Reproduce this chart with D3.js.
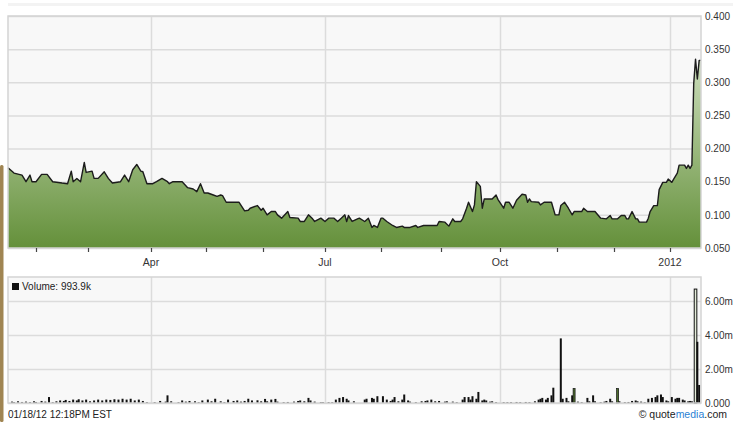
<!DOCTYPE html>
<html>
<head>
<meta charset="utf-8">
<script src="https://cdn.jsdelivr.net/npm/d3@7"></script>
<style>
  body { margin: 0; background: #fff; }
  svg { display: block; font-family: "Liberation Sans", Arial, sans-serif; }
</style>
</head>
<body>
<div class="chart"></div>
<script>
// price, daily close
const priceDates = [
  '2011-01-18','2011-01-21','2011-01-25','2011-01-27','2011-01-29','2011-01-30','2011-02-01','2011-02-04','2011-02-07','2011-02-10',
  '2011-02-15','2011-02-18','2011-02-20','2011-02-21','2011-02-23','2011-02-25','2011-02-27','2011-02-28','2011-03-03','2011-03-04',
  '2011-03-06','2011-03-09','2011-03-11','2011-03-13','2011-03-17','2011-03-19','2011-03-21','2011-03-23','2011-03-25','2011-03-27',
  '2011-03-28','2011-03-30','2011-04-02','2011-04-04','2011-04-07','2011-04-10','2011-04-11','2011-04-13','2011-04-18','2011-04-21',
  '2011-04-24','2011-04-26','2011-04-28','2011-04-30','2011-05-02','2011-05-05','2011-05-07','2011-05-09','2011-05-10','2011-05-12',
  '2011-05-19','2011-05-22','2011-05-24','2011-05-25','2011-05-29','2011-05-31','2011-06-01','2011-06-03','2011-06-05','2011-06-07',
  '2011-06-08','2011-06-10','2011-06-13','2011-06-14','2011-06-18','2011-06-19','2011-06-21','2011-06-23','2011-06-25','2011-06-26',
  '2011-06-29','2011-07-01','2011-07-03','2011-07-06','2011-07-08','2011-07-10','2011-07-12','2011-07-13','2011-07-14','2011-07-16',
  '2011-07-19','2011-07-20','2011-07-23','2011-07-25','2011-07-27','2011-07-28','2011-07-30','2011-08-01','2011-08-02','2011-08-04',
  '2011-08-07','2011-08-09','2011-08-12','2011-08-13','2011-08-16','2011-08-19','2011-08-20','2011-08-23','2011-08-30','2011-08-31',
  '2011-09-03','2011-09-05','2011-09-07','2011-09-08','2011-09-11','2011-09-12','2011-09-14','2011-09-15','2011-09-17','2011-09-18',
  '2011-09-19','2011-09-21','2011-09-22','2011-09-23','2011-09-27','2011-09-29','2011-09-30','2011-10-03','2011-10-04','2011-10-06',
  '2011-10-08','2011-10-10','2011-10-13','2011-10-15','2011-10-16','2011-10-17','2011-10-18','2011-10-22','2011-10-23','2011-10-25',
  '2011-10-29','2011-10-31','2011-11-02','2011-11-03','2011-11-05','2011-11-07','2011-11-09','2011-11-10','2011-11-14','2011-11-15',
  '2011-11-17','2011-11-21','2011-11-24','2011-11-27','2011-11-29','2011-11-30','2011-12-03','2011-12-05','2011-12-07','2011-12-08',
  '2011-12-09','2011-12-11','2011-12-13','2011-12-14','2011-12-15','2011-12-19','2011-12-20','2011-12-21','2011-12-23','2011-12-25',
  '2011-12-26','2011-12-28','2011-12-30','2011-12-31','2012-01-02','2012-01-03','2012-01-05','2012-01-06','2012-01-09','2012-01-10',
  '2012-01-11','2012-01-12','2012-01-13','2012-01-14','2012-01-15','2012-01-16','2012-01-17','2012-01-18'
];
const priceValues = [
  0.171,0.163,0.160,0.150,0.160,0.150,0.150,0.161,0.161,0.150,
  0.148,0.147,0.166,0.150,0.155,0.150,0.179,0.164,0.166,0.155,
  0.155,0.165,0.155,0.148,0.150,0.160,0.150,0.168,0.176,0.166,
  0.165,0.147,0.147,0.150,0.155,0.150,0.147,0.150,0.150,0.141,
  0.139,0.135,0.147,0.133,0.133,0.130,0.128,0.130,0.129,0.119,
  0.119,0.106,0.107,0.110,0.114,0.107,0.110,0.100,0.105,0.105,
  0.100,0.095,0.105,0.096,0.095,0.090,0.090,0.100,0.094,0.090,
  0.095,0.090,0.095,0.095,0.090,0.095,0.100,0.090,0.099,0.090,
  0.094,0.095,0.090,0.095,0.081,0.084,0.081,0.095,0.095,0.090,
  0.084,0.081,0.083,0.081,0.081,0.084,0.081,0.084,0.084,0.090,
  0.089,0.083,0.094,0.090,0.090,0.094,0.110,0.119,0.105,0.115,
  0.150,0.143,0.110,0.124,0.124,0.130,0.123,0.110,0.119,0.119,
  0.110,0.122,0.131,0.130,0.119,0.124,0.120,0.119,0.115,0.119,
  0.119,0.100,0.100,0.114,0.119,0.110,0.100,0.105,0.105,0.110,
  0.105,0.105,0.095,0.094,0.099,0.094,0.094,0.099,0.099,0.094,
  0.094,0.105,0.094,0.094,0.089,0.089,0.095,0.105,0.114,0.114,
  0.138,0.149,0.149,0.154,0.149,0.154,0.163,0.175,0.175,0.170,
  0.175,0.170,0.175,0.298,0.335,0.305,0.333,0.333
];

// volume, millions of shares
const volDates = [
  '2011-01-20','2011-01-21','2011-01-23','2011-01-25','2011-01-27','2011-01-29','2011-01-31','2011-02-01','2011-02-04','2011-02-06',
  '2011-02-08','2011-02-10','2011-02-12','2011-02-14','2011-02-16','2011-02-17','2011-02-19','2011-02-21','2011-02-23','2011-02-24',
  '2011-02-26','2011-02-28','2011-03-02','2011-03-04','2011-03-06','2011-03-08','2011-03-10','2011-03-12','2011-03-14','2011-03-16',
  '2011-03-18','2011-03-20','2011-03-22','2011-03-24','2011-03-26','2011-03-28','2011-03-30','2011-04-03','2011-04-06','2011-04-09',
  '2011-04-10','2011-04-12','2011-04-16','2011-04-18','2011-04-20','2011-04-22','2011-04-25','2011-04-27','2011-04-29','2011-05-02',
  '2011-05-04','2011-05-06','2011-05-09','2011-05-11','2011-05-13','2011-05-16','2011-05-18','2011-05-20','2011-05-22','2011-05-24',
  '2011-05-26','2011-05-29','2011-05-31','2011-06-02','2011-06-03','2011-06-05','2011-06-07','2011-06-08','2011-06-11','2011-06-13',
  '2011-06-16','2011-06-18','2011-06-19','2011-06-21','2011-06-23','2011-06-24','2011-06-26','2011-06-29','2011-06-30','2011-07-03',
  '2011-07-05','2011-07-07','2011-07-09','2011-07-11','2011-07-13','2011-07-14','2011-07-17','2011-07-23','2011-07-24','2011-07-27',
  '2011-07-28','2011-07-30','2011-08-02','2011-08-04','2011-08-06','2011-08-07','2011-08-08','2011-08-10','2011-08-12','2011-08-13',
  '2011-08-15','2011-08-16','2011-08-19','2011-08-22','2011-08-24','2011-08-25','2011-08-27','2011-08-29','2011-08-31','2011-09-03',
  '2011-09-04','2011-09-07','2011-09-09','2011-09-12','2011-09-13','2011-09-15','2011-09-16','2011-09-17','2011-09-19','2011-09-20',
  '2011-09-22','2011-09-23','2011-09-24','2011-09-26','2011-09-27','2011-09-29','2011-10-03','2011-10-05','2011-10-07','2011-10-10',
  '2011-10-12','2011-10-15','2011-10-17','2011-10-20','2011-10-22','2011-10-23','2011-10-24','2011-10-26','2011-10-27','2011-10-29',
  '2011-10-30','2011-11-03','2011-11-04','2011-11-06','2011-11-07','2011-11-09','2011-11-10','2011-11-12','2011-11-14','2011-11-17',
  '2011-11-18','2011-11-20','2011-11-21','2011-11-24','2011-11-26','2011-11-27','2011-11-29','2011-11-30','2011-12-03','2011-12-04',
  '2011-12-07','2011-12-09','2011-12-11','2011-12-13','2011-12-14','2011-12-16','2011-12-18','2011-12-20','2011-12-22','2011-12-24',
  '2011-12-25','2011-12-27','2011-12-28','2011-12-30','2011-12-31','2012-01-02','2012-01-04','2012-01-05','2012-01-06','2012-01-08',
  '2012-01-09','2012-01-11','2012-01-12','2012-01-13','2012-01-15','2012-01-16','2012-01-17'
];
const volValues = [
  0.08,0.05,0.10,0.06,0.08,0.05,0.10,0.06,0.12,0.08,
  0.35,0.05,0.10,0.15,0.12,0.18,0.12,0.20,0.15,0.22,
  0.15,0.20,0.10,0.15,0.20,0.15,0.20,0.18,0.22,0.20,
  0.25,0.20,0.25,0.15,0.20,0.12,0.05,0.05,0.12,0.08,
  0.45,0.10,0.05,0.15,0.08,0.12,0.10,0.05,0.15,0.20,
  0.10,0.25,0.10,0.05,0.20,0.12,0.15,0.08,0.12,0.25,
  0.15,0.16,0.10,0.24,0.10,0.20,0.24,0.08,0.05,0.06,
  0.08,0.12,0.15,0.10,0.30,0.15,0.08,0.05,0.05,0.05,
  0.05,0.20,0.30,0.35,0.25,0.15,0.10,0.20,0.25,0.30,
  0.25,0.40,0.40,0.20,0.12,0.20,0.35,0.10,0.20,0.50,
  0.15,0.08,0.05,0.10,0.12,0.15,0.20,0.10,0.12,0.08,
  0.10,0.08,0.05,0.20,0.35,0.35,0.20,0.40,0.25,0.65,
  0.15,0.20,0.15,0.08,0.10,0.05,0.05,0.05,0.05,0.06,
  0.05,0.06,0.05,0.10,0.20,0.25,0.30,0.20,0.30,0.45,
  0.90,3.80,0.25,0.30,0.10,0.45,0.85,0.08,0.05,0.30,
  0.10,0.45,0.10,0.05,0.08,0.12,0.25,0.10,0.85,0.10,
  0.05,0.06,0.12,0.15,0.10,0.08,0.05,0.25,0.30,0.35,
  0.45,0.50,0.35,0.15,0.10,0.35,0.25,0.30,0.30,0.20,
  0.15,0.10,0.12,0.10,6.70,3.60,1.06
];
const upVolDates = ['2011-11-10', '2011-12-03'];

const priceTicks = [0.05, 0.10, 0.15, 0.20, 0.25, 0.30, 0.35, 0.40];
const volTicks = [0, 2, 4, 6];
const quarterDates = ['2011-04-01', '2011-07-01', '2011-10-01', '2012-01-01'];
const quarterLabels = ['Apr', 'Jul', 'Oct', '2012'];
const legendText = 'Volume: 993.9k';
const stampText = '01/18/12 12:18PM EST';

const w = 733;
const h = 422;
const left = 8;
const right = 701;
const pTop = 16;
const pBottom = 248;
const vTop = 277;
const vBottom = 403;

const parse = d3.timeParse('%Y-%m-%d');
const price = priceDates.map((d, i) => ({ date: parse(d), v: priceValues[i] }));
const vol = volDates.map((d, i) => ({ date: parse(d), v: volValues[i], key: d }));
const qDates = quarterDates.map(parse);
const monthTicks = d3.timeMonth.range(parse('2011-02-01'), parse('2012-01-02'));

const svg = d3.select('.chart').append('svg').attr('width', w).attr('height', h);
svg.append('rect').attr('width', w).attr('height', h).attr('fill', '#fff');

// x: the source spaces months unevenly (trading days), so pin each month start
const xScale = d3
  .scaleTime()
  .domain([parse('2011-01-18'), ...monthTicks, parse('2012-01-18')])
  .range([left, 36, 88, 151, 206, 263, 325, 381, 441, 500, 557, 614, 670, right]);

const yPrice = d3.scaleLinear().domain([0.05, 0.4]).range([pBottom, pTop]);
const yVol = d3.scaleLinear().domain([0, 7.41]).range([vBottom, vTop]);

// decorations
svg.append('rect').attr('x', left).attr('y', 3).attr('width', w - left).attr('height', 3).attr('fill', '#f3f3f3');
svg.append('rect').attr('x', 0).attr('y', 165).attr('width', 3.5).attr('height', h - 165).attr('rx', 1.5).attr('fill', '#a08552');

const defs = svg.append('defs');
const grad = defs
  .append('linearGradient')
  .attr('id', 'pg')
  .attr('gradientUnits', 'userSpaceOnUse')
  .attr('x1', 0).attr('y1', pTop).attr('x2', 0).attr('y2', pBottom);
grad.append('stop').attr('offset', 0).attr('stop-color', '#e3efd9');
grad.append('stop').attr('offset', 1).attr('stop-color', '#64903a');

function panel(top, bottom, yScale, ticks) {
  const g = svg.append('g');
  g.append('rect')
    .attr('x', left).attr('y', top)
    .attr('width', right - left).attr('height', bottom - top)
    .attr('fill', '#f8f8f8');
  // horizontal grid
  g.append('g')
    .attr('transform', `translate(${left},0)`)
    .call(d3.axisLeft(yScale).tickValues(ticks).tickSize(-(right - left)).tickFormat(''))
    .call((a) => a.select('.domain').remove())
    .selectAll('line').attr('stroke', '#dcdcdc').attr('stroke-width', 1.5);
  // vertical grid
  g.append('g')
    .attr('transform', `translate(0,${bottom})`)
    .call(d3.axisBottom(xScale).tickValues(qDates).tickSize(-(bottom - top)).tickFormat(''))
    .call((a) => a.select('.domain').remove())
    .selectAll('line').attr('stroke', '#dcdcdc').attr('stroke-width', 1.5);
  return g;
}

// price panel
const pg = panel(pTop, pBottom, yPrice, priceTicks);
pg.append('path')
  .datum(price)
  .attr('fill', 'url(#pg)')
  .attr('d', d3.area().x((d) => xScale(d.date)).y0(pBottom).y1((d) => yPrice(d.v)));
pg.append('path')
  .datum(price)
  .attr('fill', 'none')
  .attr('stroke', '#1c1c1c')
  .attr('stroke-width', 1.4)
  .attr('stroke-linejoin', 'round')
  .attr('d', d3.line().x((d) => xScale(d.date)).y((d) => yPrice(d.v)));
pg.append('rect')
  .attr('x', left).attr('y', pTop)
  .attr('width', right - left).attr('height', pBottom - pTop)
  .attr('fill', 'none').attr('stroke', '#d4d4d4').attr('stroke-width', 1.5);

// month ticks + quarter labels
svg.append('g')
  .attr('transform', `translate(0,${pBottom})`)
  .call(d3.axisBottom(xScale).tickValues(monthTicks).tickSize(4).tickFormat(''))
  .call((a) => a.select('.domain').remove())
  .selectAll('line').attr('stroke', '#444').attr('stroke-width', 1.2);
svg.append('g')
  .selectAll('text')
  .data(qDates)
  .enter()
  .append('text')
  .attr('x', (d) => xScale(d))
  .attr('y', 266)
  .attr('text-anchor', 'middle')
  .attr('font-size', 10.5)
  .attr('fill', '#333')
  .text((d, i) => quarterLabels[i]);

// price labels, right
svg.append('g')
  .attr('transform', `translate(${right},0)`)
  .call(d3.axisRight(yPrice).tickValues(priceTicks).tickSize(0).tickPadding(4).tickFormat(d3.format('.3f')))
  .call((a) => a.select('.domain').remove())
  .selectAll('text').attr('font-size', 10).attr('fill', '#333').attr('font-family', 'Liberation Sans, Arial, sans-serif');

// volume panel
const vg = panel(vTop, vBottom, yVol, volTicks);
const maxVol = d3.max(volValues);
const isUp = (d) => upVolDates.includes(d.key);
vg.selectAll('.bar')
  .data(vol)
  .enter()
  .append('rect')
  .attr('class', 'bar')
  .attr('x', (d) => xScale(d.date) - (d.v === maxVol ? 1.3 : 1))
  .attr('width', (d) => (d.v === maxVol ? 2.6 : 2))
  .attr('y', (d) => yVol(d.v))
  .attr('height', (d) => vBottom - yVol(d.v))
  .attr('fill', (d) => (d.v === maxVol ? '#e4ecd9' : isUp(d) ? '#4d6d2e' : '#111'))
  .attr('stroke', (d) => (d.v === maxVol || isUp(d) ? '#111' : 'none'))
  .attr('stroke-width', (d) => (d.v === maxVol ? 1 : 0.7));
vg.append('rect')
  .attr('x', left).attr('y', vTop)
  .attr('width', right - left).attr('height', vBottom - vTop)
  .attr('fill', 'none').attr('stroke', '#d4d4d4').attr('stroke-width', 1.5);

svg.append('g')
  .attr('transform', `translate(${right},0)`)
  .call(
    d3.axisRight(yVol).tickValues(volTicks).tickSize(0).tickPadding(4)
      .tickFormat((d) => (d === 0 ? '0.000' : d.toFixed(2) + 'm'))
  )
  .call((a) => a.select('.domain').remove())
  .selectAll('text').attr('font-size', 10).attr('fill', '#333').attr('font-family', 'Liberation Sans, Arial, sans-serif');

// legend
svg.append('rect').attr('x', 12).attr('y', 283).attr('width', 7).attr('height', 7).attr('fill', '#111');
svg.append('text').attr('x', 22).attr('y', 290).attr('font-size', 10).attr('fill', '#222').text(legendText);

// footer
svg.append('text').attr('x', 8).attr('y', 418).attr('font-size', 10).attr('fill', '#222').text(stampText);
const credit = svg.append('text').attr('x', 727).attr('y', 418).attr('text-anchor', 'end').attr('font-size', 10.5).attr('fill', '#222');
credit.append('tspan').text('© quote');
credit.append('tspan').attr('fill', '#2a7fd4').text('media');
credit.append('tspan').text('.com');
</script>
</body>
</html>
